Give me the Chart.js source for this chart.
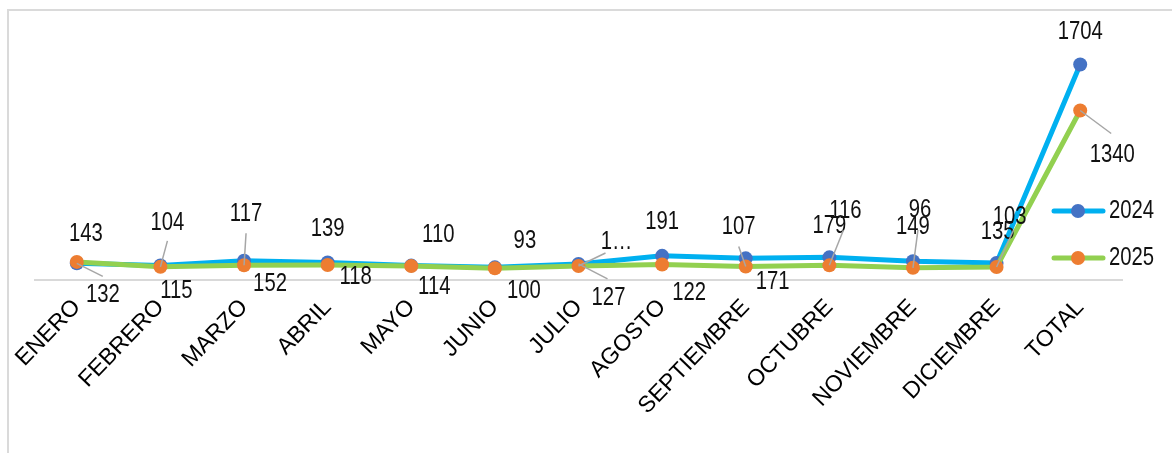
<!DOCTYPE html>
<html>
<head>
<meta charset="utf-8">
<script src="https://cdn.jsdelivr.net/npm/chart.js@4.4.1/dist/chart.umd.min.js"></script>
<style>
  body { margin: 0; background: #fff; }
  #wrap { position: relative; width: 1172px; height: 453px; overflow: hidden; }
  #frame { position: absolute; left: 7px; top: 9px; width: 1220px; height: 520px; border: 2px solid #dadada; box-sizing: border-box; }
  canvas { position: absolute; left: 0; top: 0; }
</style>
</head>
<body>
<div id="wrap">
  <div id="frame"></div>
  <canvas id="chart" width="1172" height="453"></canvas>
</div>
<script>
// Data
const months = ['ENERO', 'FEBRERO', 'MARZO', 'ABRIL', 'MAYO', 'JUNIO', 'JULIO',
  'AGOSTO', 'SEPTIEMBRE', 'OCTUBRE', 'NOVIEMBRE', 'DICIEMBRE', 'TOTAL'];
const values2024 = [132, 115, 152, 139, 114, 100, 127, 191, 171, 179, 149, 135, 1704];
const values2025 = [143, 104, 117, 118, 110, 93, 111, 122, 107, 116, 96, 103, 1340];

// Label placement (offset from point, optional leader end, truncated text)
const labelLayout2024 = [
  [26, 32, [26, 13]], [16, 25], [26, 23], [0, -34], [23, 21], [29, 23],
  [30, 34, [29, 15]], [0, -34], [27, 23], [0, -32], [0, -34], [1, -31], [0, -33]
];
const labelLayout2025 = [
  [9, -28], [7, -44, [7, -26]], [2, -51, [2, -32]], [28, 12], [27, -31], [30, -27],
  [38, -24, [27, -13], true], [27, 28], [-7, -40, [-7, -20]], [16, -54, [14, -35]],
  [7, -58, [5, -38]], [13, -50, [17, -37]], [32, 44, [31, 23]]
];

const FONT = '"Liberation Sans", Arial, sans-serif';

function drawText(ctx, text, x, y, align) {
  ctx.save();
  ctx.translate(x, y);
  ctx.scale(0.78, 1);
  ctx.font = '26px ' + FONT;
  ctx.textAlign = align;
  ctx.textBaseline = 'middle';
  ctx.fillStyle = '#111';
  ctx.fillText(text, 0, 0);
  ctx.restore();
}

// Data labels with leader lines
const dataLabels = {
  id: 'dataLabels',
  afterDatasetsDraw(chart) {
    const ctx = chart.ctx;
    chart.data.datasets.forEach((ds, di) => {
      const meta = chart.getDatasetMeta(di);
      meta.data.forEach((pt, i) => {
        const [dx, dy, leader, short] = ds.labelLayout[i];
        const text = short ? String(ds.data[i])[0] + '…' : String(ds.data[i]);
        if (leader) {
          ctx.save();
          ctx.strokeStyle = '#a6a6a6';
          ctx.lineWidth = 1.5;
          ctx.beginPath();
          ctx.moveTo(pt.x, pt.y);
          ctx.lineTo(pt.x + leader[0], pt.y + leader[1]);
          ctx.stroke();
          ctx.restore();
        }
        drawText(ctx, text, pt.x + dx, pt.y + dy, 'center');
      });
    });
  }
};

// Legend on the right, line + marker
const sideLegend = {
  id: 'sideLegend',
  afterDraw(chart) {
    const ctx = chart.ctx;
    const rows = [211, 258];
    chart.data.datasets.forEach((ds, di) => {
      const y = rows[di];
      ctx.save();
      ctx.strokeStyle = ds.borderColor;
      ctx.lineWidth = 5;
      ctx.lineCap = 'round';
      ctx.beginPath();
      ctx.moveTo(1054, y);
      ctx.lineTo(1103, y);
      ctx.stroke();
      ctx.fillStyle = ds.pointBackgroundColor;
      ctx.beginPath();
      ctx.arc(1078, y, 7, 0, Math.PI * 2);
      ctx.fill();
      ctx.restore();
      drawText(ctx, ds.label, 1109, y, 'left');
    });
  }
};

new Chart(document.getElementById('chart'), {
  type: 'line',
  data: {
    labels: months,
    datasets: [
      {
        label: '2024',
        data: values2024,
        borderColor: '#00B0F0',
        borderWidth: 5,
        pointBackgroundColor: '#4472C4',
        pointBorderColor: '#4472C4',
        pointRadius: 7,
        pointBorderWidth: 0,
        tension: 0,
        order: 1,
        labelLayout: labelLayout2024
      },
      {
        label: '2025',
        data: values2025,
        borderColor: '#92D050',
        borderWidth: 5,
        pointBackgroundColor: '#ED7D31',
        pointBorderColor: '#ED7D31',
        pointRadius: 7,
        pointBorderWidth: 0,
        tension: 0,
        order: 0,
        labelLayout: labelLayout2025
      }
    ]
  },
  options: {
    responsive: false,
    animation: false,
    layout: { padding: { left: 35, right: 50, top: 27, bottom: 0 } },
    plugins: { legend: { display: false }, tooltip: { enabled: false } },
    scales: {
      y: { display: false, min: 0, max: 2000 },
      x: {
        offset: true,
        grid: { display: false },
        border: { display: true, color: '#d9d9d9', width: 2 },
        ticks: {
          color: '#000',
          font: { family: FONT, size: 23 },
          minRotation: 46,
          maxRotation: 46,
          padding: 6,
          autoSkip: false
        },
        afterFit(scale) { scale.height = 173; }
      }
    }
  },
  plugins: [dataLabels, sideLegend]
});
</script>
</body>
</html>
